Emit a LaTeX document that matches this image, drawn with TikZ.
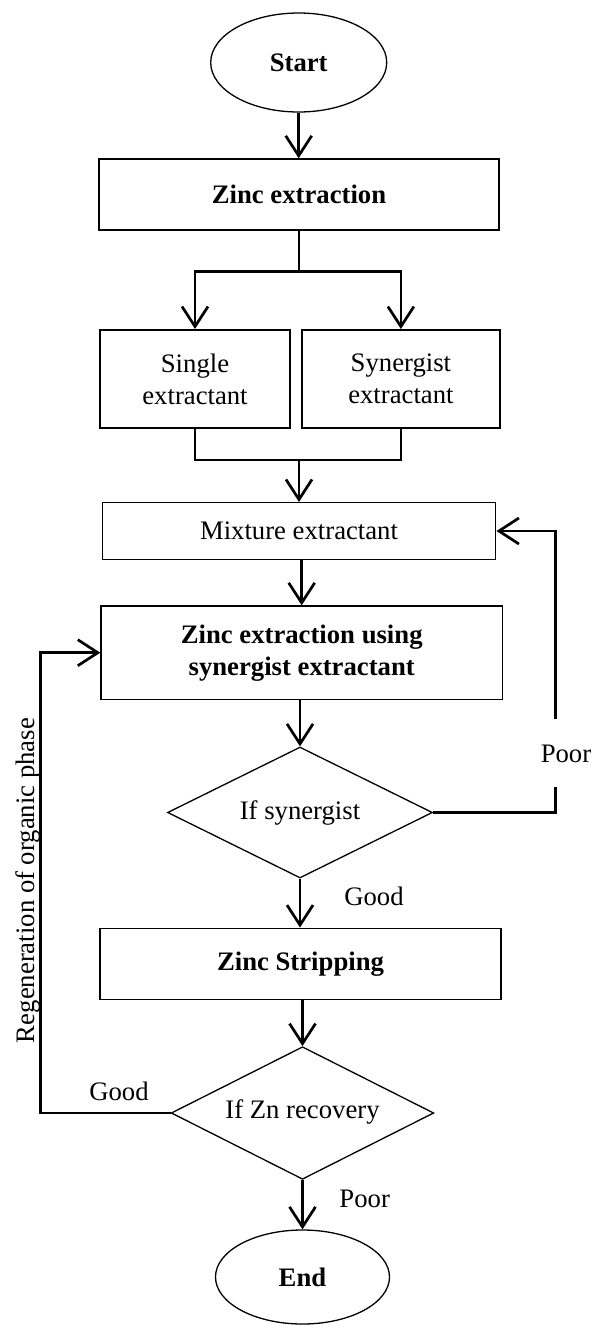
\documentclass[tikz,border=0pt]{standalone}
\usepackage{fontspec}
\setmainfont{Liberation Serif}
\usetikzlibrary{shapes.geometric,arrows.meta}
\begin{document}
\begin{tikzpicture}[x=1pt,y=-1pt,
  every node/.style={font=\fontsize{26.7}{32}\selectfont},
  proc/.style={draw,line width=1.5pt,inner sep=0pt,align=center},
  term/.style={draw,ellipse,line width=1.3pt,inner sep=0pt},
  dec/.style={draw,diamond,line width=1.3pt,inner sep=0pt,aspect=2},
  conn/.style={line width=2.7pt},
  thinconn/.style={line width=1.5pt},
  arr/.style={-{Straight Barb[length=20pt,width=26pt]}}
]
\useasboundingbox (0,0) rectangle (592,1326);

% nodes
\node[term,minimum width=176pt,minimum height=99pt] (start) at (298.7,62.5) {\textbf{Start}};
\node[proc,minimum width=400pt,minimum height=71pt] (zx) at (299,194.5) {\textbf{Zinc extraction}};
\node[proc,line width=2pt,minimum width=190pt,minimum height=98pt] (single) at (195,379) {Single\\extractant};
\node[proc,line width=2pt,minimum width=198.3pt,minimum height=98pt] (syn) at (400.9,379) {Synergist\\extractant};
\node[proc,minimum width=393.4pt,minimum height=56.6pt] (mix) at (299,531) {Mixture extractant};
\node[proc,minimum width=401.3pt,minimum height=93.3pt] (zu) at (301.7,652.7) {\textbf{Zinc extraction using}\\\textbf{synergist extractant}};
\node[dec,minimum width=265pt,minimum height=131pt] (d1) at (300,812.5) {If synergist};
\node[proc,minimum width=401pt,minimum height=71pt] (strip) at (300.5,963.8) {\textbf{Zinc Stripping}};
\node[dec,minimum width=262.6pt,minimum height=132.6pt] (d2) at (302.5,1113) {\raisebox{8pt}{If Zn recovery}};
\node[term,minimum width=174pt,minimum height=94pt] (end) at (302.5,1277) {\textbf{End}};

% labels
\node (good1) at (374,896.7) {Good};
\node (poor1) at (566,754) {Poor};
\node (good2) at (119,1091.7) {Good};
\node (poor2) at (364.7,1199) {Poor};
\node[rotate=90,anchor=base] (regen) at (34.5,880.5) {Regeneration of organic phase};

% helper coordinates
\coordinate (sp) at (299,271.7);
\coordinate (mg) at (299,460);
\coordinate (pa) at (555.7,786.7);
\coordinate (pb) at (555.7,719);
\coordinate (lx) at (40.7,0);

% connectors
\draw[conn,arr] (start) -- (start |- zx.north);
\draw[thinconn] (zx.south) -- (sp);
\draw[conn,arr] (sp) -| (single.north);
\draw[conn,arr] (sp) -| (syn.north);
\draw[thinconn] (single.south) |- (mg);
\draw[thinconn] (syn.south) |- (mg);
\draw[conn,arr] (mg) -- (mix.north);
\draw[conn,arr] (zu.north |- mix.south) -- (zu.north);
\draw[conn,arr] (zu.south -| d1.north) -- (d1.north);
\draw[conn,arr] (d1.south) -- (d1.south |- strip.north);
\draw[conn,arr] (strip.south -| d2.north) -- (d2.north);
\draw[conn,arr] (d2.south) -- (end.north);
\draw[conn] (d1.east) -| (pa);
\draw[conn,arr] (pb) |- (mix.east);
\draw[conn,arr] (d2.west) -| (lx |- zu.west) -- (zu.west);
\end{tikzpicture}
\end{document}
